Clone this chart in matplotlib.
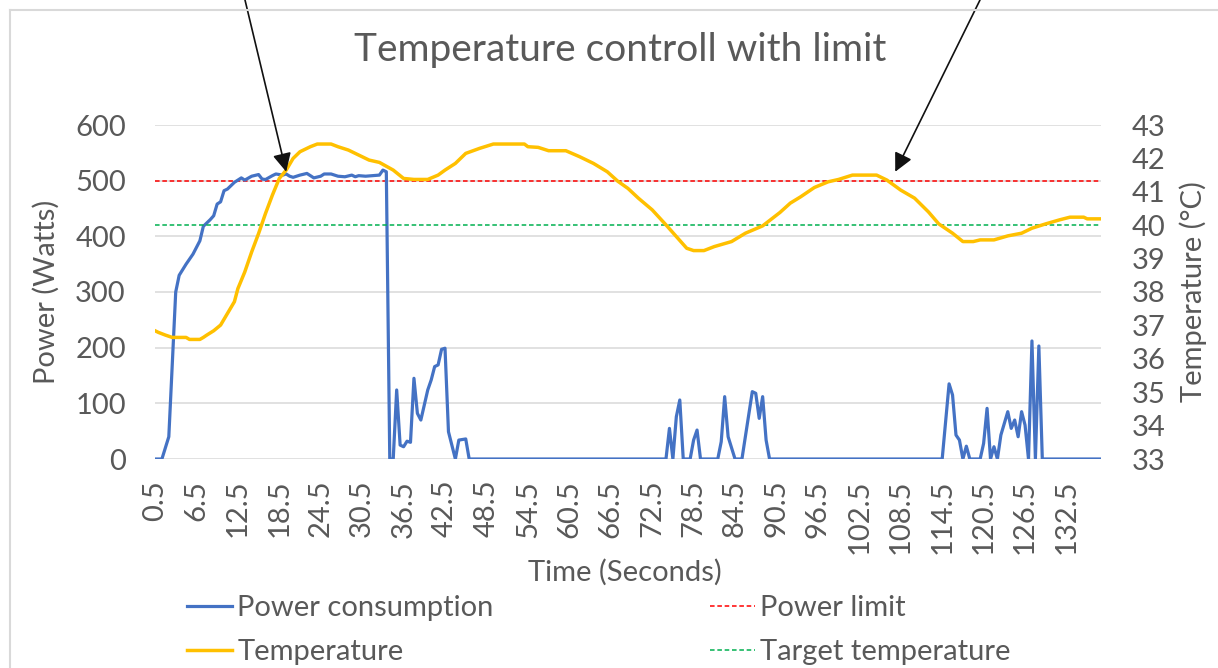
import matplotlib
matplotlib.use("Agg")
import matplotlib.pyplot as plt
from matplotlib.lines import Line2D
import numpy as np

plt.rcParams['font.family'] = ['Lato', 'DejaVu Sans']

# ---- data ----
power_t = [0.5, 1.5, 2.5, 3.5, 4, 5, 6, 7, 7.5, 8.5, 9, 9.5, 10, 10.5, 11, 12, 13, 13.5,
           14.5, 15.5, 16, 16.5, 17.5, 18, 19, 19.5, 20, 20.5, 21.5, 22.5, 23.5, 24.5, 25,
           26, 27, 28, 29, 29.5, 30, 31, 32, 33, 33.5, 34, 34.5, 35, 35.5, 36, 36.5, 37,
           37.5, 38, 38.5, 39, 40, 40.5, 41, 41.5, 42, 42.5, 43, 44, 44.5, 45.5, 46, 74.5,
           75, 75.5, 76, 76.5, 77, 78, 78.5, 79, 79.5, 82, 82.5, 83, 83.5, 84.5, 85.5, 87,
           87.5, 88, 88.5, 89, 89.5, 114.5, 115.5, 116, 116.5, 117, 117.5, 118, 118.5, 120,
           120.5, 121, 121.5, 122, 122.5, 123, 124, 124.5, 125, 125.5, 126, 126.5, 127,
           127.5, 128, 128.5, 129, 137.5]
power_w = [0, 0, 40, 300, 330, 350, 368, 392, 418, 430, 437, 458, 462, 482, 485, 497, 505, 501,
           508, 511, 503, 502, 509, 512, 510, 512, 508, 506, 510, 513, 505, 508, 512,
           512, 508, 507, 510, 507, 509, 508, 509, 510, 519, 516, 0, 0, 124, 25, 22, 32,
           30, 145, 82, 70, 124, 142, 166, 169, 197, 199, 49, 0, 34, 36, 0, 0,
           55, 0, 76, 106, 0, 0, 34, 52, 0, 0, 31, 112, 40, 0, 0, 121,
           118, 73, 112, 34, 0, 0, 135, 115, 43, 34, 0, 23, 0, 0,
           28, 91, 0, 22, 0, 43, 85, 55, 70, 40, 85, 61, 0,
           212, 0, 203, 0, 0]

temp_t = [0.5, 1, 2, 3, 5, 5.5, 7, 7.5, 8, 9, 10, 11, 12, 12.5, 13.5, 14.5, 15.5, 16.5, 17.5,
          18.5, 19.5, 20.5, 21.5, 23, 24, 26, 27, 28.5, 30, 31.5, 33, 35, 36.5, 38, 40, 41.5,
          42.5, 44, 45.5, 47.5, 49.5, 54, 54.5, 56, 57.5, 60, 62, 64, 66, 67.5, 69, 70.5,
          72.5, 74.5, 76, 77.5, 78.5, 80, 81.5, 84, 86, 88.5, 91, 92.5, 94, 96, 98, 99.5,
          101.5, 105, 106.5, 108.5, 110.5, 112.5, 114, 116, 117.5, 119, 120, 122, 124, 126,
          127.5, 129.5, 131.5, 133, 135, 135.5, 137.5]
temp_c = [36.84, 36.79, 36.71, 36.64, 36.64, 36.58, 36.58, 36.64, 36.71, 36.84, 37.01, 37.36,
          37.71, 38.1, 38.6, 39.2, 39.75, 40.35, 40.9, 41.4, 41.65, 42.0, 42.2, 42.35, 42.43,
          42.43, 42.35, 42.25, 42.1, 41.95, 41.88, 41.65, 41.4, 41.37, 41.37, 41.5, 41.65,
          41.85, 42.15, 42.3, 42.43, 42.43, 42.35, 42.33, 42.23, 42.23, 42.05, 41.85, 41.6,
          41.32, 41.1, 40.81, 40.46, 40.01, 39.66, 39.31, 39.24, 39.24, 39.36, 39.51, 39.76,
          39.98, 40.38, 40.66, 40.85, 41.13, 41.3, 41.37, 41.5, 41.5, 41.35, 41.05, 40.81,
          40.4, 40.04, 39.76, 39.51, 39.51, 39.56, 39.56, 39.68, 39.76, 39.91, 40.04, 40.16,
          40.24, 40.24, 40.19, 40.19]

power_limit = 500
target_temp = 40
x_ticks = [0.5, 6.5, 12.5, 18.5, 24.5, 30.5, 36.5, 42.5, 48.5, 54.5, 60.5, 66.5, 72.5,
           78.5, 84.5, 90.5, 96.5, 102.5, 108.5, 114.5, 120.5, 126.5, 132.5]
power_ticks = [0, 100, 200, 300, 400, 500, 600]
temp_ticks = [33, 34, 35, 36, 37, 38, 39, 40, 41, 42, 43]
arrow_tips = [(19.5, 41.6), (107.7, 41.6)]
arrow_tails_px = [245, 980]

# ---- figure ----
W, H = 1218, 668
fig = plt.figure(figsize=(W / 100, H / 100), dpi=100)
fig.patch.set_facecolor('white')

def fx(px):
    return px / W

def fy(py):
    return 1 - py / H

ax1 = fig.add_axes([fx(155), fy(459), fx(1101 - 155), (459 - 125) / H])
ax2 = ax1.twinx()

txt = '#595959'
blue = '#4472C4'
gold = '#FFC000'
red = '#FF0000'
green = '#00B050'
grid = '#D9D9D9'

ax1.set_xlim(0.5, 137.5)
ax1.set_ylim(0, 600)
ax2.set_ylim(33, 43)

for y in power_ticks:
    ax1.axhline(y, color=grid, lw=1.1, zorder=0)

ln_power, = ax1.plot(power_t, power_w, color=blue, lw=2.3, solid_joinstyle='round', zorder=3)
ln_limit = ax1.axhline(power_limit, color=red, lw=1.1, ls=(0, (3, 1.8)), zorder=2)
ln_temp, = ax2.plot(temp_t, temp_c, color=gold, lw=2.5, solid_joinstyle='round', zorder=3)
ln_target = ax2.axhline(target_temp, color=green, lw=1.1, ls=(0, (3, 1.8)), zorder=2)

for a in (ax1, ax2):
    for s in a.spines.values():
        s.set_visible(False)

ax1.set_yticks(power_ticks)
ax1.set_yticklabels([str(v) for v in power_ticks])
ax2.set_yticks(temp_ticks)
ax2.set_yticklabels([str(v) for v in temp_ticks])
ax1.set_xticks(x_ticks)
ax1.set_xticklabels([f'{v:g}' for v in x_ticks], rotation=90)
ax1.tick_params(axis='y', length=0, pad=21, labelsize=21, labelcolor=txt)
ax2.tick_params(axis='y', length=0, pad=22, labelsize=21, labelcolor=txt)
ax1.tick_params(axis='x', length=0, pad=15, labelsize=21, labelcolor=txt)

fig.text(fx(620), fy(50), 'Temperature controll with limit', ha='center', va='center',
         fontsize=28, color=txt)
fig.text(fx(625), fy(572), 'Time (Seconds)', ha='center', va='center', fontsize=21, color=txt)
fig.text(fx(46), fy(292), 'Power (Watts)', ha='center', va='center', rotation=90,
         fontsize=21, color=txt)
fig.text(fx(1193), fy(292), 'Temperature (°C)', ha='center', va='center', rotation=90,
         fontsize=21, color=txt)

leg = fig.legend([ln_power, ln_temp, ln_limit, ln_target],
                 ['Power consumption', 'Temperature', 'Power limit', 'Target temperature'],
                 ncol=2, loc='upper left', bbox_to_anchor=(fx(187), fy(595)),
                 frameon=False, fontsize=21, handlelength=1.55, handletextpad=0.18,
                 columnspacing=7.4, labelspacing=0.62, borderpad=0, borderaxespad=0)
for t in leg.get_texts():
    t.set_color(txt)

# chart border
fig.add_artist(Line2D([fx(10), fx(10)], [fy(10), 0], color=grid, lw=1.5))
fig.add_artist(Line2D([fx(10), 1], [fy(10), fy(10)], color=grid, lw=1.5))

# arrows
for (tt, tc), px in zip(arrow_tips, arrow_tails_px):
    ax2.annotate('', xy=(tt, tc), xycoords='data', xytext=(fx(px), 1.0),
                 textcoords='figure fraction',
                 arrowprops=dict(arrowstyle='-|>', color='#111111', lw=1.2,
                                 mutation_scale=28, shrinkA=0, shrinkB=0),
                 annotation_clip=False, zorder=10)

fig.savefig('out.png', dpi=100, facecolor='white')
